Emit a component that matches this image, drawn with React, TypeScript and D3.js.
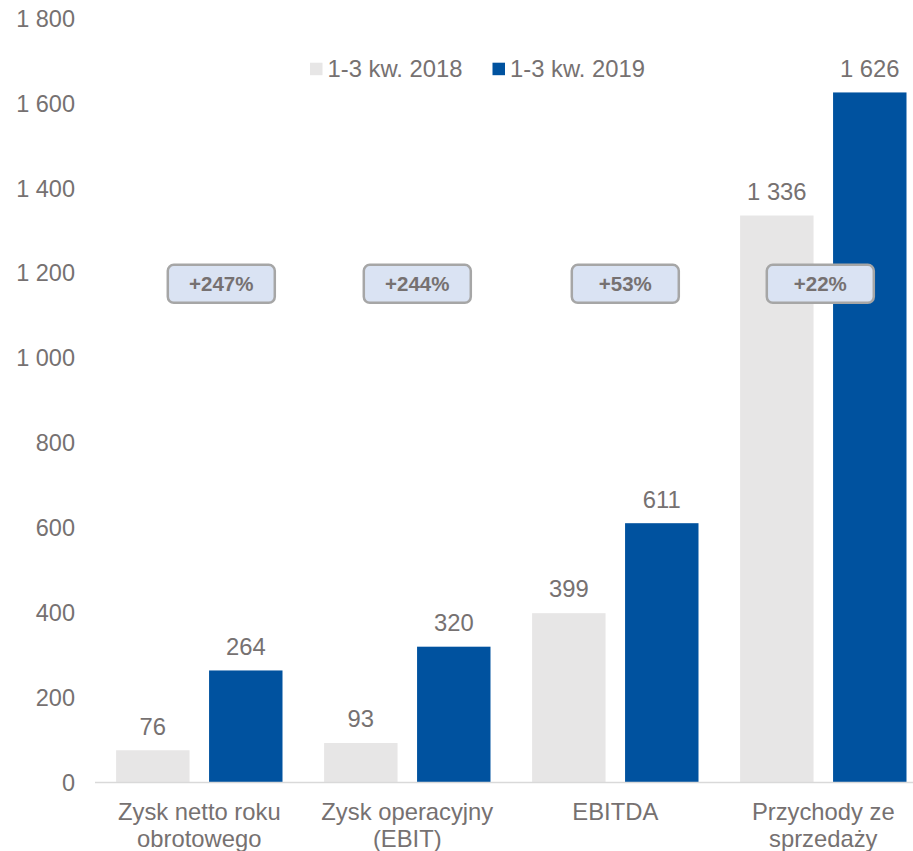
import React from "react";
import * as d3 from "d3";

const categories: string[][] = [
  ["Zysk netto roku", "obrotowego"],
  ["Zysk operacyjny", "(EBIT)"],
  ["EBITDA"],
  ["Przychody ze", "sprzedaży"],
];
const seriesNames = ["1-3 kw. 2018", "1-3 kw. 2019"];
const values2018 = [76, 93, 399, 1336];
const values2019 = [264, 320, 611, 1626];
const changeLabels = ["+247%", "+244%", "+53%", "+22%"];
const yTicks = [0, 200, 400, 600, 800, 1000, 1200, 1400, 1600, 1800];

const W = 913;
const H = 851;
const COLORS = ["#e7e6e6", "#00529f"];
const TEXT = "#767171";
const FONT = "Arial, 'Liberation Sans', sans-serif";
const FS = 23.8;
const BOX_VALUE = 1175;
const BOX_OFFSETS = [22, 10, 10, -3];

const locale = d3.formatLocale({
  decimal: ",",
  thousands: " ",
  grouping: [3],
  currency: ["", ""],
});
const fmt = locale.format(",");

export default function App() {
  const keys = categories.map((c) => c.join(" "));
  const x0 = d3
    .scaleBand<string>()
    .domain(keys)
    .range([95.3, 927.3])
    .paddingInner(0.2)
    .paddingOuter(0.1);
  const x1 = d3
    .scaleBand<string>()
    .domain(seriesNames)
    .range([0, x0.bandwidth()])
    .paddingInner(0.21)
    .paddingOuter(0);
  const y = d3.scaleLinear().domain([0, 1800]).range([782.5, 18.6]);
  const series = [values2018, values2019];

  return (
    <svg
      width={W}
      height={H}
      style={{ position: "absolute", left: 0, top: 0, background: "#fff" }}
      fontFamily={FONT}
    >
      {yTicks.map((t) => (
        <text
          key={t}
          x={75}
          y={y(t)}
          dy="0.35em"
          textAnchor="end"
          fontSize={23.5}
          fill={TEXT}
        >
          {fmt(t)}
        </text>
      ))}

      {series.map((vals, si) =>
        vals.map((v, ci) => {
          const bx = (x0(keys[ci]) as number) + (x1(seriesNames[si]) as number);
          return (
            <g key={`${si}-${ci}`}>
              <rect
                x={bx}
                y={y(v)}
                width={x1.bandwidth()}
                height={y(0) - y(v)}
                fill={COLORS[si]}
              />
              <text
                x={bx + x1.bandwidth() / 2}
                y={y(v) - 24}
                dy="0.35em"
                textAnchor="middle"
                fontSize={FS}
                fill={TEXT}
              >
                {fmt(v)}
              </text>
            </g>
          );
        })
      )}

      <line x1={95} x2={913} y1={y(0)} y2={y(0)} stroke="#d9d9d9" strokeWidth={1.5} />

      {categories.map((lines, ci) => {
        const cx = (x0(keys[ci]) as number) + x0.bandwidth() / 2;
        return (
          <text key={ci} textAnchor="middle" fontSize={FS} fill={TEXT}>
            {lines.map((l, li) => (
              <tspan key={li} x={cx} y={812 + li * 27} dy="0.35em">
                {l}
              </tspan>
            ))}
          </text>
        );
      })}

      {changeLabels.map((lab, ci) => {
        const cx = (x0(keys[ci]) as number) + x0.bandwidth() / 2 + BOX_OFFSETS[ci];
        const cy = y(BOX_VALUE);
        return (
          <g key={lab}>
            <rect
              x={cx - 53.5}
              y={cy - 19}
              width={107}
              height={38}
              rx={6}
              fill="#dae3f3"
              stroke="#a6a6a6"
              strokeWidth={2.5}
            />
            <text
              x={cx}
              y={cy}
              dy="0.35em"
              textAnchor="middle"
              fontSize={20.5}
              fontWeight="bold"
              fill={TEXT}
            >
              {lab}
            </text>
          </g>
        );
      })}

      {seriesNames.map((name, si) => {
        const lx = [310, 492.5][si];
        return (
          <g key={name}>
            <rect x={lx} y={62.7} width={12.5} height={12.5} fill={COLORS[si]} />
            <text x={lx + 17.5} y={69} dy="0.35em" fontSize={FS} fill={TEXT}>
              {name}
            </text>
          </g>
        );
      })}
    </svg>
  );
}
